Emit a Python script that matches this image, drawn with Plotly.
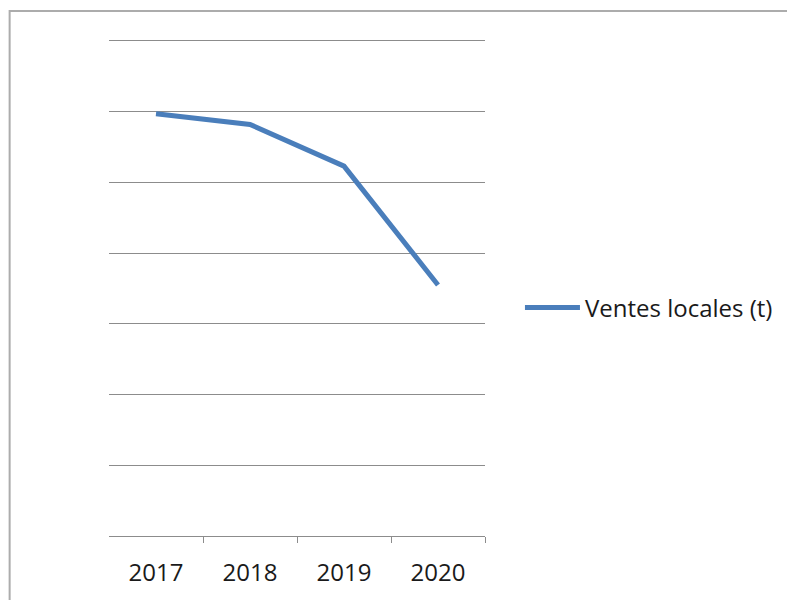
import plotly.graph_objects as go

years = ["2017", "2018", "2019", "2020"]
ventes = [597, 582, 523, 355]
series_name = "Ventes locales (t)"

FONT = "Open Sans"
OFF = 8  # page body margin
W, H = 795 - OFF, 600 - OFF
L, R, T, B = 108.5 - OFF, 485 - OFF, 39 - OFF, 538 - OFF
YMAX = 702.8

x_idx = list(range(len(years)))

fig = go.Figure()
fig.add_trace(go.Scatter(
    x=x_idx, y=ventes, mode="lines", name=series_name,
    line=dict(color="#4a7ebb", width=5),
    showlegend=True,
))
# invisible trace on secondary x axis for boundary tick marks
fig.add_trace(go.Scatter(x=[0.5], y=[None], xaxis="x2", showlegend=False,
                         hoverinfo="skip"))

fig.update_layout(
    width=W, height=H,
    margin=dict(l=L, r=W - R, t=T, b=H - B, pad=0),
    paper_bgcolor="white", plot_bgcolor="white",
    font=dict(family=FONT, size=24, color="#1a1a1a"),
    xaxis=dict(
        range=[-0.5, 3.5], tickvals=x_idx, ticktext=years,
        ticks="", showgrid=False, zeroline=False,
        showline=True, linecolor="#8c8c8c", linewidth=1,
        tickfont=dict(family=FONT, size=24, color="#1a1a1a"),
        ticklabelstandoff=15,
    ),
    xaxis2=dict(
        overlaying="x", side="bottom", range=[-0.5, 3.5],
        tickvals=[0.5, 1.5, 2.5, 3.5], ticktext=["", "", "", ""],
        ticks="outside", ticklen=6, tickcolor="#8c8c8c", tickwidth=1,
        showgrid=False, zeroline=False, showline=False,
    ),
    yaxis=dict(
        range=[0, YMAX], tickvals=[100, 200, 300, 400, 500, 600, 700],
        showticklabels=False,
        showgrid=True, gridcolor="#8c8c8c", gridwidth=1,
        zeroline=False, ticks="",
    ),
    legend=dict(
        x=(512 - L) / (R - L), xanchor="left",
        y=(B - 301) / (B - T), yanchor="middle",
        font=dict(family=FONT, size=24, color="#1a1a1a"),
        bgcolor="rgba(0,0,0,0)", itemwidth=55,
    ),
    shapes=[dict(
        type="rect", xref="paper", yref="paper",
        x0=(1 - L) / (R - L), x1=(805 - L) / (R - L),
        y0=(B - 610) / (B - T), y1=(B - 3) / (B - T),
        line=dict(color="#acacac", width=2), fillcolor="rgba(0,0,0,0)",
        layer="below",
    )],
)

fig.write_html("out.html")
